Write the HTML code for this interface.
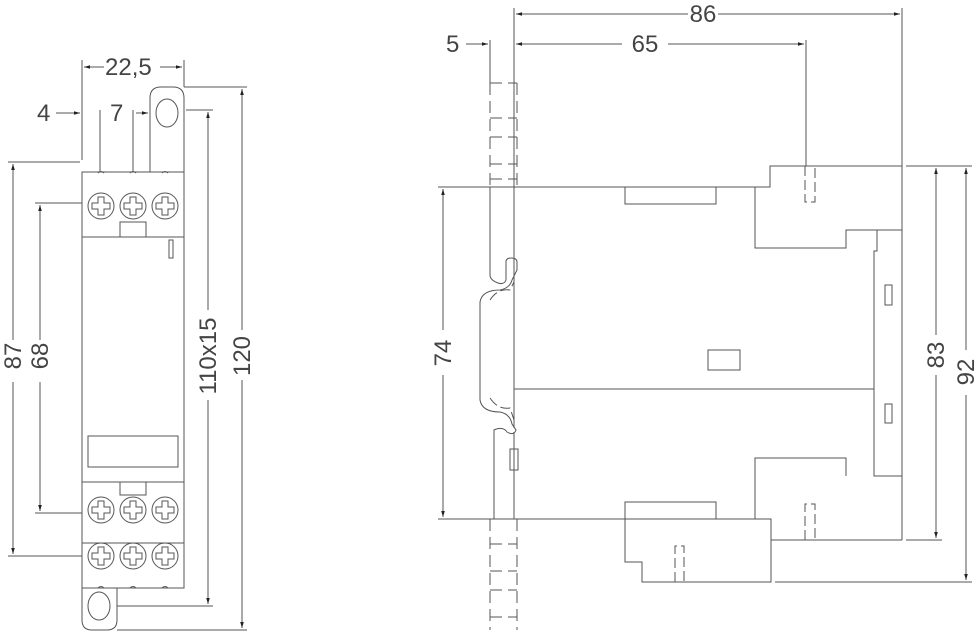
<!DOCTYPE html>
<html><head><meta charset="utf-8"><style>
html,body{margin:0;padding:0;background:#fff;}
svg{display:block;}
text{font-family:"Liberation Sans",sans-serif;font-size:24px;fill:#444;}
</style></head><body>
<svg width="980" height="632" viewBox="0 0 980 632" xmlns="http://www.w3.org/2000/svg">
<defs>
<marker id="a" viewBox="0 0 10 10" refX="10" refY="5" markerWidth="8" markerHeight="6" orient="auto-start-reverse"><path d="M0,2 L10,5 L0,8 Z" fill="#222"/></marker>
<g id="scr"><circle r="13" fill="none" stroke="#555"/><path d="M-3,-9 h6 v6 h6 v6 h-6 v6 h-6 v-6 h-6 v-6 h6 z" fill="none" stroke="#555"/></g>
</defs>
<g stroke="#555" stroke-width="1" fill="none">
<path d="M82,172 H184 V588 H82 Z"/>
<path d="M98,173 q3,-3 6,0 M130,173 q3,-3 6,0 M162,173 q3,-3 6,0"/>
<line x1="82" y1="237" x2="184" y2="237"/>
<rect x="120" y="222" width="26" height="15"/>
<rect x="169" y="240" width="4" height="18"/>
<rect x="88" y="436" width="90" height="31"/>
<line x1="82" y1="482" x2="184" y2="482"/>
<rect x="120" y="482" width="26" height="13"/>
<line x1="82" y1="543" x2="184" y2="543"/>
<path d="M98,588 q3,-3 6,0 M130,588 q3,-3 6,0 M162,588 q3,-3 6,0"/>
<path d="M150,172 V98 q0,-11 11,-11 h12 q11,0 11,11 V172"/>
<ellipse cx="167" cy="113" rx="11" ry="14"/>
<path d="M82,588 V620 q0,10 10,10 h15 q10,0 10,-10 V588"/>
<ellipse cx="99" cy="606" rx="11" ry="14"/>
</g>
<use href="#scr" x="101" y="206"/><use href="#scr" x="133" y="206"/><use href="#scr" x="165" y="206"/>
<use href="#scr" x="101" y="510"/><use href="#scr" x="133" y="510"/><use href="#scr" x="165" y="510"/>
<use href="#scr" x="101" y="556"/><use href="#scr" x="133" y="556"/><use href="#scr" x="165" y="556"/>
<g stroke="#555" stroke-width="1" fill="none">
<line x1="82" y1="60" x2="82" y2="160"/><line x1="184" y1="60" x2="184" y2="87"/>
<line x1="84" y1="67" x2="104" y2="67" marker-start="url(#a)"/><line x1="160" y1="67" x2="182" y2="67" marker-end="url(#a)"/>
<line x1="56" y1="113" x2="80" y2="113" marker-end="url(#a)"/>
<line x1="100" y1="110" x2="100" y2="172"/><line x1="133" y1="110" x2="133" y2="172"/>
<line x1="136" y1="113" x2="148" y2="113" marker-end="url(#a)"/>
<line x1="8" y1="162" x2="80" y2="162"/><line x1="8" y1="556" x2="82" y2="556"/>
<line x1="13" y1="164" x2="13" y2="340" marker-start="url(#a)"/><line x1="13" y1="382" x2="13" y2="554" marker-end="url(#a)"/>
<line x1="35" y1="203" x2="82" y2="203"/><line x1="35" y1="513" x2="82" y2="513"/>
<line x1="40" y1="205" x2="40" y2="340" marker-start="url(#a)"/><line x1="40" y1="382" x2="40" y2="511" marker-end="url(#a)"/>
<line x1="186" y1="110" x2="213" y2="110"/><line x1="117" y1="606" x2="213" y2="606"/>
<line x1="208" y1="112" x2="208" y2="310" marker-start="url(#a)"/><line x1="208" y1="400" x2="208" y2="604" marker-end="url(#a)"/>
<line x1="184" y1="87" x2="247" y2="87"/><line x1="117" y1="630" x2="247" y2="630"/>
<line x1="242" y1="89" x2="242" y2="330" marker-start="url(#a)"/><line x1="242" y1="380" x2="242" y2="628" marker-end="url(#a)"/>
</g>
<text x="105" y="75">22,5</text>
<text x="37" y="121">4</text>
<text x="110" y="121">7</text>
<text transform="translate(21,356) rotate(-90)" text-anchor="middle">87</text>
<text transform="translate(48,356) rotate(-90)" text-anchor="middle">68</text>
<text transform="translate(216,356) rotate(-90)" text-anchor="middle">110x15</text>
<text transform="translate(250,356) rotate(-90)" text-anchor="middle">120</text>

<g stroke="#555" stroke-width="1" fill="none">
<g stroke-dasharray="12,6">
<line x1="490" y1="83" x2="490" y2="187"/><line x1="517" y1="83" x2="517" y2="187"/>
<line x1="490" y1="519" x2="490" y2="630"/><line x1="517" y1="519" x2="517" y2="630"/>
<path d="M490,83 H517 M490,118 H517 M490,137 H517 M490,164 H517 M490,179 H517 M490,544 H517 M490,571 H517 M490,590 H517 M490,617 H517"/>
</g>
<path d="M514,8 V428 M514,519 V432"/>
<path d="M902,8 V540"/>
<path d="M490,187 H770 V166 H902"/>
<rect x="625" y="187" width="91" height="17"/>
<path d="M755,187 V248 H846 V230 H902"/>
<path d="M877,230 V251 H874 V476 H902"/>
<line x1="514" y1="389" x2="874" y2="389"/>
<rect x="885" y="285" width="7" height="20"/><rect x="885" y="404" width="7" height="19"/>
<rect x="708" y="350" width="32" height="20"/>
<rect x="510" y="449" width="8" height="21"/>
<path d="M490,187 V275 q0,5 8,8 q6,2 8,-3 V262 q0,-4 5,-4 q6,0 6,4 V270 L512,280 q-2,8 -12,10 q-18,0 -20,12 V400 q2,12 20,12 q10,2 12,12 l4,6 q-2,6 -9,2 q-4,-6 -13,-2 V519"/>
<path d="M490,300 q8,-12 20,-10 L514,282 M490,398 q8,12 20,10 L514,420" stroke-dasharray="10,4"/>
<path d="M755,519 V458 H846 V476 M771,540 H902"/>
<path d="M490,519 H771 V582 H642 V562 H625 V502 H716 V519"/>
<path d="M805,166 V202 H815 V166" stroke-dasharray="10,4"/>
<path d="M805,540 V504 H815 V540" stroke-dasharray="10,4"/>
<path d="M675,582 V546 H684 V582" stroke-dasharray="10,4"/>
<line x1="516" y1="14" x2="688" y2="14" marker-start="url(#a)"/><line x1="718" y1="14" x2="900" y2="14" marker-end="url(#a)"/>
<line x1="516" y1="44" x2="622" y2="44" marker-start="url(#a)"/><line x1="668" y1="44" x2="804" y2="44" marker-end="url(#a)"/>
<line x1="806" y1="40" x2="806" y2="166"/>
<line x1="490" y1="40" x2="490" y2="83"/>
<line x1="466" y1="44" x2="488" y2="44" marker-end="url(#a)"/>
<line x1="438" y1="187" x2="490" y2="187"/><line x1="438" y1="519" x2="490" y2="519"/>
<line x1="443" y1="189" x2="443" y2="330" marker-start="url(#a)"/><line x1="443" y1="375" x2="443" y2="517" marker-end="url(#a)"/>
<line x1="906" y1="166" x2="972" y2="166"/><line x1="906" y1="540" x2="942" y2="540"/>
<line x1="775" y1="582" x2="972" y2="582"/>
<line x1="936" y1="168" x2="936" y2="335" marker-start="url(#a)"/><line x1="936" y1="375" x2="936" y2="538" marker-end="url(#a)"/>
<line x1="966" y1="168" x2="966" y2="350" marker-start="url(#a)"/><line x1="966" y1="395" x2="966" y2="580" marker-end="url(#a)"/>
</g>
<text x="703" y="22" text-anchor="middle">86</text>
<text x="645" y="52" text-anchor="middle">65</text>
<text x="446" y="52">5</text>
<text transform="translate(451,353) rotate(-90)" text-anchor="middle">74</text>
<text transform="translate(944,355) rotate(-90)" text-anchor="middle">83</text>
<text transform="translate(974,372) rotate(-90)" text-anchor="middle">92</text>
</svg>
</body></html>
